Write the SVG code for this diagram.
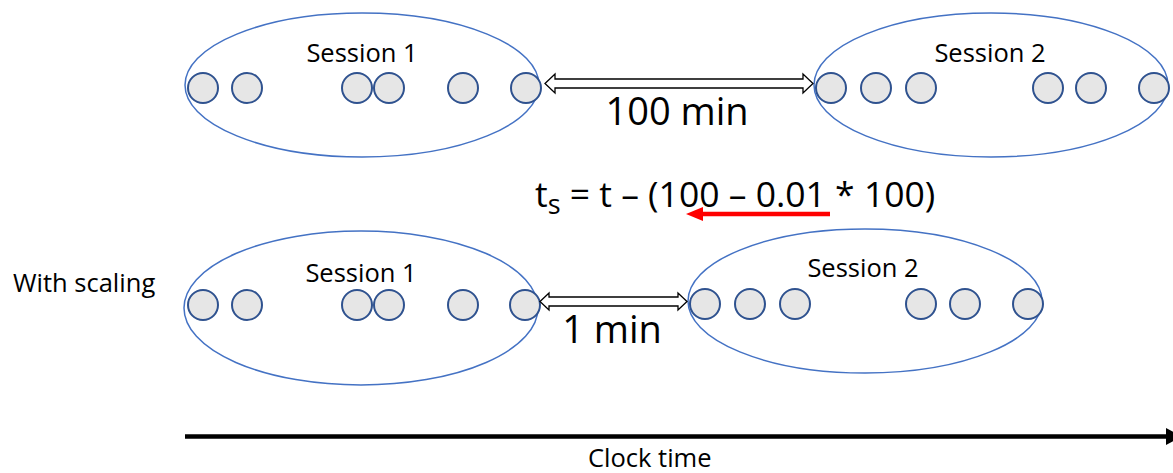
<svg xmlns="http://www.w3.org/2000/svg" width="1173" height="473" viewBox="0 0 1173 473">
<style>
.sess{fill:none;stroke:#4472C4;stroke-width:1.5}
.ev{fill:#E6E6E6;stroke:#2F528F;stroke-width:2}
.lbl{font-family:"Open Sans","Liberation Sans",sans-serif;fill:#000}
.dbl{fill:#fff;stroke:#000;stroke-width:1.3;stroke-linejoin:miter}
</style>
<defs>
<circle id="ev" r="15" class="ev"/>
</defs>
<rect width="1173" height="473" fill="#fff"/>

<g id="top-session1">
<ellipse class="sess" cx="362" cy="85" rx="177" ry="72"/>
<use href="#ev" x="203" y="88"/><use href="#ev" x="247" y="88"/><use href="#ev" x="357" y="88"/><use href="#ev" x="389" y="88"/><use href="#ev" x="463" y="88"/><use href="#ev" x="526" y="88"/>
<text class="lbl" x="362" y="62" font-size="25.5" text-anchor="middle">Session 1</text>
</g>

<g id="top-session2">
<ellipse class="sess" cx="991" cy="85" rx="177" ry="72"/>
<use href="#ev" x="831" y="88"/><use href="#ev" x="876" y="88"/><use href="#ev" x="921" y="88"/><use href="#ev" x="1048" y="88"/><use href="#ev" x="1091" y="88"/><use href="#ev" x="1154" y="88"/>
<text class="lbl" x="990" y="62" font-size="25.5" text-anchor="middle">Session 2</text>
</g>

<g id="bottom-session1">
<ellipse class="sess" cx="361" cy="308" rx="177" ry="77"/>
<use href="#ev" x="203" y="305"/><use href="#ev" x="247" y="305"/><use href="#ev" x="357" y="305"/><use href="#ev" x="389" y="305"/><use href="#ev" x="463" y="305"/><use href="#ev" x="525" y="305"/>
<text class="lbl" x="361" y="282" font-size="25.5" text-anchor="middle">Session 1</text>
</g>

<g id="bottom-session2">
<ellipse class="sess" cx="865" cy="301" rx="177" ry="72"/>
<use href="#ev" x="705" y="304"/><use href="#ev" x="750" y="304"/><use href="#ev" x="795" y="304"/><use href="#ev" x="921" y="304"/><use href="#ev" x="965" y="304"/><use href="#ev" x="1028" y="304"/>
<text class="lbl" x="863" y="277" font-size="25.5" text-anchor="middle">Session 2</text>
</g>

<g id="labels">
<text class="lbl" x="13" y="292" font-size="25.5">With scaling</text>
<text class="lbl" x="677" y="125" font-size="38" text-anchor="middle">100 min</text>
<text class="lbl" x="612" y="343" font-size="38" text-anchor="middle">1 min</text>
<text class="lbl" x="535" y="207" font-size="35.5">t<tspan font-size="27" dy="7">s</tspan><tspan dy="-7"> = t – (100 – 0.01 * 100)</tspan></text>
<text class="lbl" x="588" y="467" font-size="25.5">Clock time</text>
</g>

<g id="connectors">
<polygon class="dbl" points="545,83.5 555,74 555,79 803,79 803,74 813,83.5 803,93 803,88 555,88 555,93"/>
<polygon class="dbl" points="540,301.5 549,293 549,297 678,297 678,293 687,301.5 678,310 678,306 549,306 549,310"/>
<line x1="830" y1="214" x2="700" y2="214" stroke="#FF0000" stroke-width="4.5"/>
<polygon points="686,214 703,207 703,221" fill="#FF0000"/>
<line x1="185" y1="436.5" x2="1168" y2="436.5" stroke="#000" stroke-width="4.5"/>
<polygon points="1166,428 1182,436.5 1166,445" fill="#000"/>
</g>
</svg>
